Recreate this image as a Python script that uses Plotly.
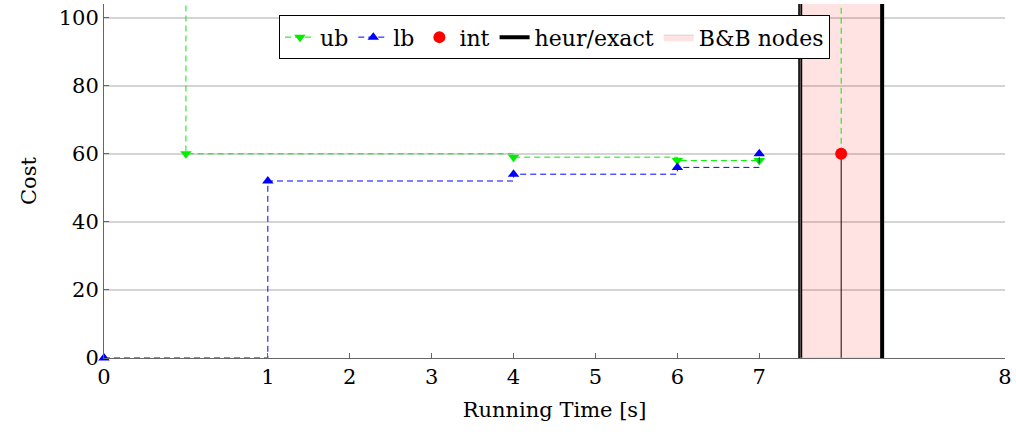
import plotly.graph_objects as go

# x positions on the (non-uniform) time axis and their labels
tick_pos = [0, 2, 3, 4, 5, 6, 7, 8, 11]
tick_labels = ["0", "1", "2", "3", "4", "5", "6", "7", "8"]

# upper bound (step, holds value until next point)
ub_x = [1, 1, 5, 7, 8]
ub_y = [130, 60, 59, 58, 58]
# upper bound after the integer solution
ub2_x = [9, 9]
ub2_y = [60, 130]

# lower bound
lb_x = [0, 2, 5, 7, 8]
lb_y = [0, 52, 54, 56, 60]

# integer solution
int_x = [9]
int_y = [60]

# heuristic / exact boundaries and B&B region
heur_x = [8.5, 9.5]
bb_range = [8.5, 9.5]

y_range = [0, 104]
y_ticks = [0, 20, 40, 60, 80, 100]

FONT = "DejaVu Serif"
GREEN = "#00ee00"
BLUE = "#0000ff"

fig = go.Figure()

# left heur/exact line (below the pink region)
fig.add_trace(go.Scatter(
    x=[heur_x[0], heur_x[0]], y=[0, 130], mode="lines",
    line=dict(color="black", width=4), name="heur/exact",
    legendrank=4, showlegend=True))

# stem of integer solution
fig.add_trace(go.Scatter(
    x=[int_x[0], int_x[0]], y=[0, int_y[0]], mode="lines",
    line=dict(color="black", width=1), showlegend=False))

# B&B region
fig.add_trace(go.Scatter(
    x=[bb_range[0], bb_range[1], bb_range[1], bb_range[0], bb_range[0]],
    y=[0, 0, 130, 130, 0], mode="lines", fill="toself",
    fillcolor="rgba(255,0,0,0.11)", line=dict(color="rgba(190,190,190,0.6)", width=1),
    name="B&B nodes", legendrank=5))

# right heur/exact line
fig.add_trace(go.Scatter(
    x=[heur_x[1], heur_x[1]], y=[0, 130], mode="lines",
    line=dict(color="black", width=4), showlegend=False))

# ub
fig.add_trace(go.Scatter(
    x=ub_x, y=ub_y, mode="lines+markers", line_shape="hv",
    line=dict(color=GREEN, width=1, dash="6px,4px"),
    marker=dict(symbol="triangle-down", size=10, color=GREEN),
    name="ub", legendrank=1))
fig.add_trace(go.Scatter(
    x=ub2_x, y=ub2_y, mode="lines",
    line=dict(color=GREEN, width=1, dash="6px,4px"), showlegend=False))

# lb
fig.add_trace(go.Scatter(
    x=lb_x, y=lb_y, mode="lines+markers", line_shape="hv",
    line=dict(color=BLUE, width=1, dash="6px,4px"),
    marker=dict(symbol="triangle-up", size=10, color=BLUE),
    cliponaxis=False, name="lb", legendrank=2))

# int
fig.add_trace(go.Scatter(
    x=int_x, y=int_y, mode="markers",
    marker=dict(symbol="circle", size=12, color="#ff0000"),
    name="int", legendrank=3))

fig.update_layout(
    width=1016, height=434,
    margin=dict(l=104, r=7, t=4, b=76),
    paper_bgcolor="white", plot_bgcolor="white",
    font=dict(family=FONT, size=20, color="black"),
    legend=dict(
        orientation="h", x=0.5, xanchor="center", y=0.968, yanchor="top",
        bgcolor="white", bordercolor="black", borderwidth=1,
        font=dict(family=FONT, size=22), itemwidth=30,
        tracegroupgap=0, traceorder="normal"),
    showlegend=True,
)

fig.update_xaxes(
    range=[0, 11], tickmode="array", tickvals=tick_pos, ticktext=tick_labels,
    showgrid=False, zeroline=False, showline=True, linecolor="#666", linewidth=1,
    ticks="inside", ticklen=5, tickcolor="#666",
    tickfont=dict(family=FONT, size=21),
    title=dict(text="Running Time [s]", font=dict(family=FONT, size=21), standoff=14))

fig.update_yaxes(
    range=y_range, tickmode="array", tickvals=y_ticks,
    showgrid=True, gridcolor="#d4d4d4", gridwidth=1.5,
    zeroline=False, showline=True, linecolor="#666", linewidth=1,
    ticks="inside", ticklen=5, tickcolor="#666",
    tickfont=dict(family=FONT, size=21),
    title=dict(text="Cost", font=dict(family=FONT, size=21), standoff=16))

fig.write_html("out.html")
